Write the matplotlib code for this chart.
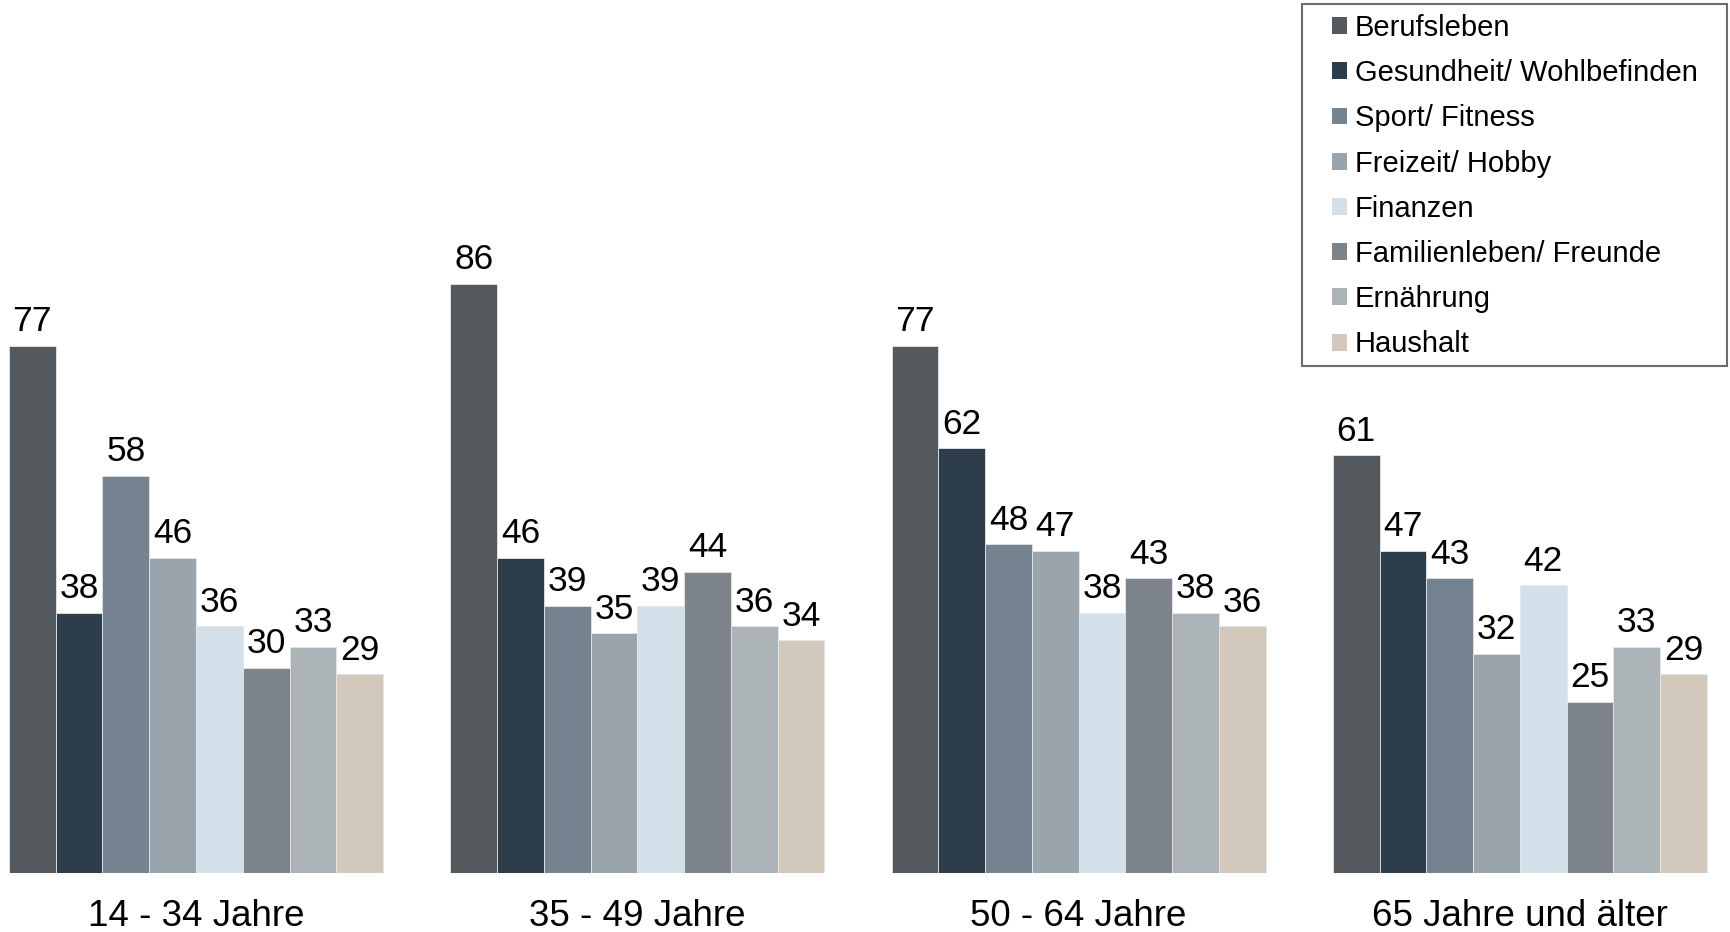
import numpy as np
import matplotlib
matplotlib.use('Agg')
from matplotlib import pyplot as plt
from matplotlib.patches import Rectangle

plt.rcParams['font.family'] = ['Liberation Sans', 'DejaVu Sans']

groups = ['14 - 34 Jahre', '35 - 49 Jahre', '50 - 64 Jahre', '65 Jahre und älter']
series = ['Berufsleben', 'Gesundheit/ Wohlbefinden', 'Sport/ Fitness', 'Freizeit/ Hobby',
          'Finanzen', 'Familienleben/ Freunde', 'Ernährung', 'Haushalt']
colors = ['#54595e', '#2e3d4c', '#74838f', '#9aa4ad', '#d3e0ea', '#7c838a', '#adb4b7', '#d2c9bc']

berufsleben = [77, 86, 77, 61]
gesundheit = [38, 46, 62, 47]
sport = [58, 39, 48, 43]
freizeit = [46, 35, 47, 32]
finanzen = [36, 39, 38, 42]
familie = [30, 44, 43, 25]
ernaehrung = [33, 36, 38, 33]
haushalt = [29, 34, 36, 29]
values = [berufsleben, gesundheit, sport, freizeit, finanzen, familie, ernaehrung, haushalt]

fig = plt.figure(figsize=(17.3, 9.32), dpi=100)
ax = fig.add_axes([0, 59 / 932, 1, 1 - 59 / 932])

x = np.arange(len(groups))
w = 0.106
for i, (name, vals) in enumerate(zip(series, values)):
    pos = x + (i - 3.5) * w
    bars = ax.bar(pos, vals, w, color=colors[i], edgecolor='#e4e6e8', linewidth=0.6, label=name)
    for b, v in zip(bars, vals):
        ax.annotate(str(v), (b.get_x() + b.get_width() / 2, v), xytext=(0, 10.5),
                    textcoords='offset points', ha='center', va='baseline', fontsize=25.5)

ax.set_xlim(-0.4441, 3.476)
ax.set_ylim(0, 873 / 6.85)
ax.set_xticks(x)
ax.set_xticklabels(groups, fontsize=26.5)
ax.tick_params(axis='x', length=0, pad=19)
ax.set_yticks([])
for s in ax.spines.values():
    s.set_visible(False)

leg = fig.legend(loc='upper left', bbox_to_anchor=(1332 / 1730, 1 - 14 / 932), frameon=False,
                 fontsize=21, borderpad=0, borderaxespad=0, handlelength=0.51, handleheight=0.51,
                 handletextpad=0.27, labelspacing=0.59)
for h in leg.legend_handles:
    h.set_edgecolor('none')

fig.patches.append(Rectangle((1302 / 1730, 1 - 366 / 932), 425 / 1730, 362 / 932,
                             transform=fig.transFigure, fill=False, edgecolor='#726a63',
                             linewidth=1.5))

fig.savefig('out.png', dpi=100)
